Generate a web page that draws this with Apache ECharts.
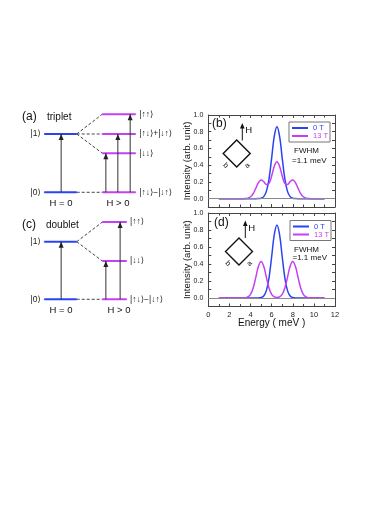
<!DOCTYPE html>
<html>
<head>
<meta charset="utf-8">
<script src="https://cdn.jsdelivr.net/npm/echarts@6.0.0/dist/echarts.min.js"></script>
<style>
  html, body { margin: 0; padding: 0; background: #fff; }
  #chart { width: 372px; height: 526px; }
</style>
</head>
<body>
<div id="chart"></div>
<script>
// spectra of panels (b) and (d) (meV, arb. unit)
const energy = [1, 1.25, 1.5, 1.75, 2, 2.25, 2.5, 2.75, 3, 3.25, 3.5, 3.75, 4, 4.25, 4.5, 4.75,
  5, 5.25, 5.5, 5.75, 6, 6.25, 6.5, 6.75, 7, 7.25, 7.5, 7.75, 8, 8.25, 8.5, 8.75,
  9, 9.25, 9.5, 9.75, 10, 10.25, 10.5, 10.75, 11]
const zeroFieldB = [0, 0, 0, 0, 0, 0, 0, 0, 0, 0, 0, 0, 0, 0, 0, 0.001,
  0.005, 0.024, 0.087, 0.237, 0.485, 0.746, 0.86, 0.746, 0.485, 0.237, 0.087, 0.024, 0.005, 0.001, 0, 0,
  0, 0, 0, 0, 0, 0, 0, 0, 0]
const highFieldB = [0, 0, 0, 0, 0, 0, 0, 0, 0, 0, 0.001, 0.006, 0.022, 0.061, 0.124, 0.191,
  0.223, 0.203, 0.168, 0.182, 0.27, 0.387, 0.442, 0.387, 0.27, 0.182, 0.168, 0.203, 0.223, 0.191, 0.124, 0.061,
  0.022, 0.006, 0.001, 0, 0, 0, 0, 0, 0]
const zeroFieldD = [0, 0, 0, 0, 0, 0, 0, 0, 0, 0, 0, 0, 0, 0, 0, 0.001,
  0.005, 0.024, 0.087, 0.237, 0.485, 0.746, 0.86, 0.746, 0.485, 0.237, 0.087, 0.024, 0.005, 0.001, 0, 0,
  0, 0, 0, 0, 0, 0, 0, 0, 0]
const highFieldD = [0, 0, 0, 0, 0, 0, 0, 0, 0, 0, 0.003, 0.012, 0.043, 0.118, 0.243, 0.373,
  0.43, 0.373, 0.243, 0.118, 0.043, 0.012, 0.005, 0.012, 0.043, 0.118, 0.243, 0.373, 0.43, 0.373, 0.243, 0.118,
  0.043, 0.012, 0.003, 0, 0, 0, 0, 0, 0]
const yTickValues = [0, 0.1, 0.2, 0.3, 0.4, 0.5, 0.6, 0.7, 0.8, 0.9, 1.0]
const yLabelValues = [0, 0.2, 0.4, 0.6, 0.8, 1.0]
const seriesNames = ['0 T', '13 T']

// level diagrams (a) and (c), energies in units of the |0>-|1> gap
const zeroFieldLevels = [0, 1]
const zeroFieldNames = ['|0⟩', '|1⟩']
const tripletLevels = [0, 0.67, 1, 1.34]
const tripletNames = ['|↑↓⟩−|↓↑⟩', '|↓↓⟩', '|↑↓⟩+|↓↑⟩', '|↑↑⟩']
const tripletArrowX = [1.9, 2.27, 2.65]
const doubletLevels = [0, 0.665, 1.34]
const doubletNames = ['|↑↓⟩−|↓↑⟩', '|↓↓⟩', '|↑↑⟩']
const doubletArrowX = [1.9, 2.34]
const zeroColumn = [0, 1]
const tripletColumn = [1.79, 2.82]
const doubletColumn = [1.79, 2.54]
const zeroArrowX = 0.52

const BLUE = '#2b43f2'
const MAGENTA = '#c440f4'
const FONT = '"Liberation Sans", Arial, "DejaVu Sans", sans-serif'

const chart = echarts.init(document.getElementById('chart'), null, { renderer: 'canvas' })

function levelLine(idx, col, e, color, name, side) {
  const mk = (x, show, pos) => ({
    value: [x, e],
    label: { show: show, position: pos, distance: 3, formatter: name, fontSize: 8.5, color: '#222' }
  })
  return {
    type: 'line', xAxisIndex: idx, yAxisIndex: idx, silent: true, clip: false,
    symbol: 'circle', symbolSize: 1, showSymbol: true,
    itemStyle: { color: color },
    lineStyle: { color: color, width: 2 },
    data: [mk(col[0], side === 'left', 'left'), mk(col[1], side === 'right', 'right')],
    z: 3
  }
}

function connector(idx, e0, e1, x0, x1) {
  return {
    type: 'line', xAxisIndex: idx, yAxisIndex: idx, silent: true, clip: false,
    symbol: 'none',
    lineStyle: { color: '#444', width: 1, type: [3, 2] },
    data: [[x0, e0], [x1, e1]],
    z: 2
  }
}

function arrow(idx, x, e) {
  return {
    type: 'line', xAxisIndex: idx, yAxisIndex: idx, silent: true, clip: false,
    showSymbol: true,
    itemStyle: { color: '#222' },
    lineStyle: { color: '#333', width: 1 },
    data: [
      { value: [x, 0], symbol: 'none' },
      { value: [x, e], symbol: 'triangle', symbolSize: [5, 6], symbolOffset: [0, '50%'] }
    ],
    z: 4
  }
}

function diagram(idx, levels, names, column, arrowsX) {
  const out = []
  zeroFieldLevels.forEach((e, i) => out.push(levelLine(idx, zeroColumn, e, BLUE, zeroFieldNames[i], 'left')))
  levels.forEach((e, i) => out.push(levelLine(idx, column, e, MAGENTA, names[i], 'right')))
  out.push(connector(idx, zeroFieldLevels[0], levels[0], zeroColumn[1], column[0]))
  levels.slice(1).forEach(e => out.push(connector(idx, zeroFieldLevels[1], e, zeroColumn[1], column[0])))
  out.push(arrow(idx, zeroArrowX, zeroFieldLevels[1]))
  arrowsX.forEach((x, i) => out.push(arrow(idx, x, levels[i + 1])))
  return out
}

function spectrum(idx, name, values, color, zeroLine) {
  const s = {
    name: name, type: 'line', xAxisIndex: idx, yAxisIndex: idx,
    symbol: 'none', smooth: 0.4,
    lineStyle: { color: color, width: 1.5 },
    itemStyle: { color: color },
    data: energy.map((x, i) => [x, values[i]])
  }
  if (zeroLine) {
    s.markLine = {
      silent: true, symbol: 'none', label: { show: false },
      lineStyle: { color: '#8a8a8a', width: 1, type: 'solid' },
      data: [{ yAxis: 0 }]
    }
  }
  return s
}

const frameColor = '#444'

function energyAxis(grid, pos, labels) {
  return {
    type: 'value', gridIndex: grid, position: pos, min: 0, max: 12, interval: 2,
    axisLine: { show: true, onZero: false, lineStyle: { color: frameColor, width: 1 } },
    axisTick: { show: true, inside: true, length: 3, lineStyle: { color: frameColor } },
    minorTick: { show: true, splitNumber: 2, length: 2.5, lineStyle: { color: frameColor } },
    axisLabel: { show: labels, fontSize: 7.5, color: '#222', margin: 4 },
    splitLine: { show: false },
    name: labels ? 'Energy ( meV )' : '',
    nameLocation: 'middle', nameGap: 12, nameMoveOverlap: false,
    nameTextStyle: { fontSize: 10, color: '#111' }
  }
}

function intensityAxis(grid, pos, labels) {
  return {
    type: 'value', gridIndex: grid, position: pos, min: -0.1, max: 1,
    axisLine: { show: true, onZero: false, lineStyle: { color: frameColor, width: 1 } },
    axisTick: { show: true, inside: true, length: 3, customValues: yTickValues, lineStyle: { color: frameColor } },
    axisLabel: {
      show: labels, fontSize: 7, color: '#222', margin: 5,
      customValues: yLabelValues, formatter: v => v.toFixed(1)
    },
    splitLine: { show: false },
    name: labels ? 'Intensity (arb. unit)' : '',
    nameLocation: 'middle', nameGap: 16, nameMoveOverlap: false,
    nameTextStyle: { fontSize: 9.5, color: '#111' }
  }
}

const hiddenX = g => ({ type: 'value', gridIndex: g, min: 0, max: 3, show: false })
const hiddenY = g => ({ type: 'value', gridIndex: g, min: -0.2, max: 1.5, show: false })

function legendAt(left, top) {
  return {
    data: [
      { name: seriesNames[0], textStyle: { color: BLUE } },
      { name: seriesNames[1], textStyle: { color: MAGENTA } }
    ],
    left: left, top: top, orient: 'vertical',
    itemWidth: 16, itemHeight: 7, itemGap: 0,
    padding: [2, 2, 2, 2],
    itemStyle: { opacity: 0 },
    borderColor: '#777', borderWidth: 1, borderRadius: 0,
    textStyle: { fontSize: 7.5 }, selectedMode: false
  }
}

function txt(x, y, text, size, extra) {
  return {
    type: 'text', x: x, y: y, silent: true,
    style: Object.assign({ text: text, fontSize: size, fontFamily: FONT, fill: '#111', verticalAlign: 'middle' }, extra || {})
  }
}

function inset(cx, cy, ax, ay) {
  const h = 13.5
  return [
    {
      type: 'polygon', silent: true,
      shape: { points: [[cx - h, cy], [cx, cy - h], [cx + h, cy], [cx, cy + h]] },
      style: { fill: 'none', stroke: '#111', lineWidth: 1.4 }
    },
    { type: 'line', silent: true, shape: { x1: ax, y1: ay + 17, x2: ax, y2: ay + 4 }, style: { stroke: '#111', lineWidth: 1 } },
    {
      type: 'polygon', silent: true,
      shape: { points: [[ax - 2.3, ay + 5], [ax + 2.3, ay + 5], [ax, ay - 0.5]] },
      style: { fill: '#111' }
    },
    txt(ax + 3, ay + 7, 'H', 9.5),
    {
      type: 'text', silent: true, x: cx - 11, y: cy + 12, rotation: -Math.PI / 4,
      style: { text: 'b', fontSize: 7.5, fontFamily: FONT, fill: '#111', align: 'center', verticalAlign: 'middle' }
    },
    {
      type: 'text', silent: true, x: cx + 10.5, y: cy + 12, rotation: Math.PI / 4,
      style: { text: 'a', fontSize: 7.5, fontFamily: FONT, fill: '#111', align: 'center', verticalAlign: 'middle' }
    }
  ]
}

chart.setOption({
  backgroundColor: '#fff',
  animation: false,
  textStyle: { fontFamily: FONT },
  grid: [
    { left: 44.3, top: 104.85, width: 97.2, height: 99.1 },
    { left: 44.3, top: 212.9, width: 97.2, height: 97.9 },
    { left: 208.3, top: 115, width: 126.7, height: 92 },
    { left: 208.3, top: 213, width: 126.7, height: 93.5 }
  ],
  xAxis: [
    hiddenX(0), hiddenX(1),
    energyAxis(2, 'bottom', false), energyAxis(2, 'top', false),
    energyAxis(3, 'bottom', true), energyAxis(3, 'top', false)
  ],
  yAxis: [
    hiddenY(0), hiddenY(1),
    intensityAxis(2, 'left', true), intensityAxis(2, 'right', false),
    intensityAxis(3, 'left', true), intensityAxis(3, 'right', false)
  ],
  legend: [legendAt(289, 122), legendAt(290, 220.5)],
  series: [
    ...diagram(0, tripletLevels, tripletNames, tripletColumn, tripletArrowX),
    ...diagram(1, doubletLevels, doubletNames, doubletColumn, doubletArrowX),
    spectrum(2, seriesNames[0], zeroFieldB, BLUE, true),
    spectrum(2, seriesNames[1], highFieldB, MAGENTA, false),
    spectrum(4, seriesNames[0], zeroFieldD, BLUE, true),
    spectrum(4, seriesNames[1], highFieldD, MAGENTA, false)
  ],
  graphic: [
    txt(22, 117, '(a)', 12),
    txt(47, 117, 'triplet', 10),
    txt(22, 225, '(c)', 12),
    txt(46, 225, 'doublet', 10),
    txt(61, 203.5, 'H = 0', 9.5, { align: 'center' }),
    txt(118, 203.5, 'H > 0', 9.5, { align: 'center' }),
    txt(61, 310.5, 'H = 0', 9.5, { align: 'center' }),
    txt(119, 310.5, 'H > 0', 9.5, { align: 'center' }),
    txt(212, 123.5, '(b)', 12),
    txt(214, 223, '(d)', 12),
    txt(294, 151, 'FWHM', 8),
    txt(292, 161, '=1.1 meV', 8),
    txt(294, 249.3, 'FWHM', 8),
    txt(292.5, 257.5, '=1.1 meV', 8),
    ...inset(236.7, 153.5, 242.3, 123.5),
    ...inset(239, 251.5, 245.3, 221)
  ]
})
</script>
</body>
</html>
